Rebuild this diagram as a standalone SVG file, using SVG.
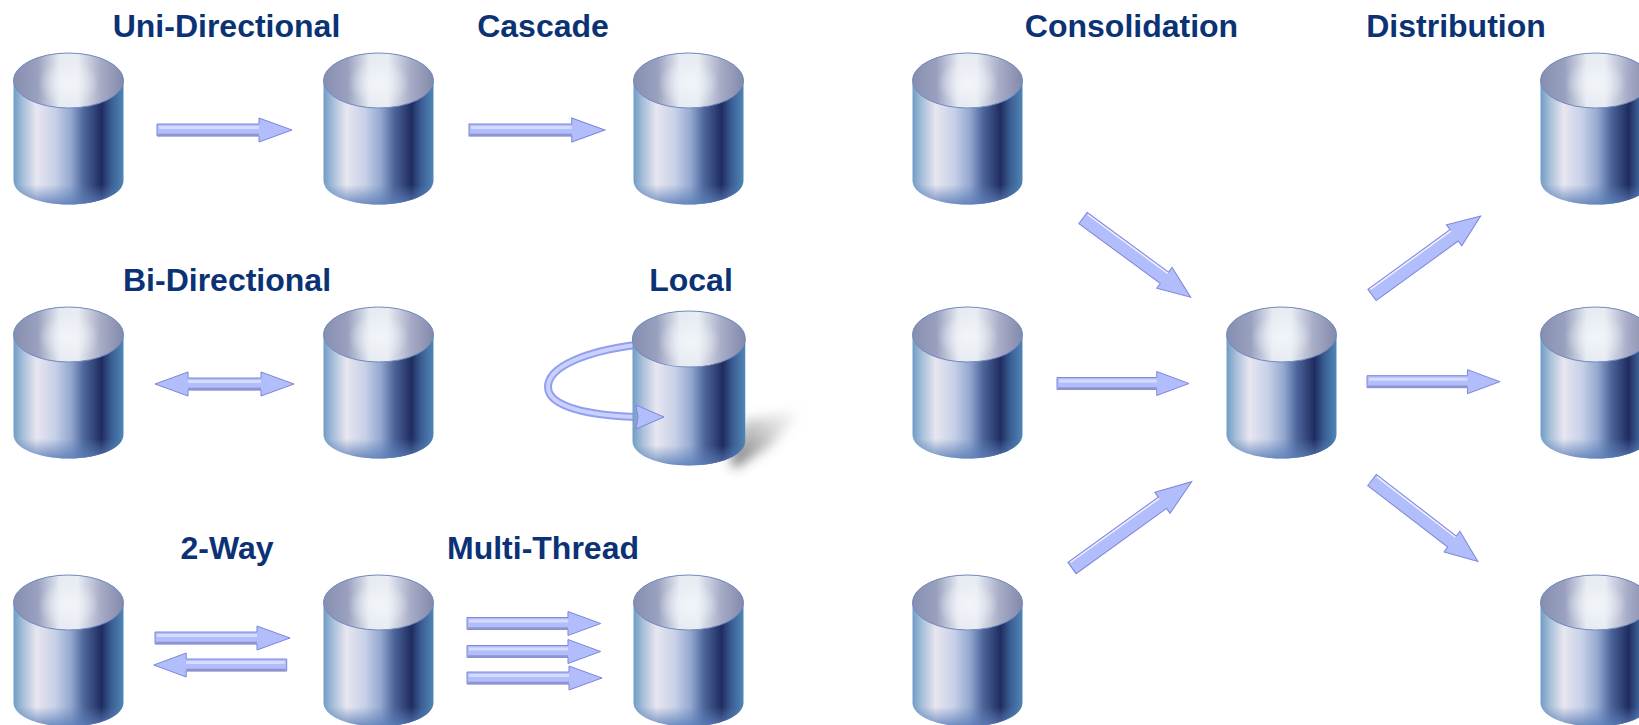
<svg xmlns="http://www.w3.org/2000/svg" width="1639" height="725" viewBox="0 0 1639 725">
<style>
.t{font-family:"Liberation Sans",Arial,sans-serif;font-weight:700;font-size:32px;fill:#0a3275;text-anchor:middle}
.ah{fill:#b2bdfb;stroke:#7d86d8;stroke-width:1}
.hi{stroke:#d5dcff;stroke-width:3;fill:none}
.lo{stroke:#8f94cf;stroke-width:2.500;fill:none}
.dh{stroke:#eef0ff;stroke-width:1.500;fill:none}
</style>
<defs>
<linearGradient id="body" x1="0" x2="1" y1="0" y2="0">
<stop offset="0" stop-color="#6f9cc6"/><stop offset=".09" stop-color="#a9c0da"/><stop offset=".21" stop-color="#e8e6f0"/><stop offset=".38" stop-color="#c6d0e7"/><stop offset=".52" stop-color="#94a8d0"/><stop offset=".64" stop-color="#4d669b"/><stop offset=".8" stop-color="#1f2c60"/><stop offset=".89" stop-color="#3a5e94"/><stop offset="1" stop-color="#5086b6"/>
</linearGradient>
<linearGradient id="inner" x1="0" x2="1" y1="0" y2="0">
<stop offset="0" stop-color="#868eb0"/><stop offset=".22" stop-color="#9aa1bf"/><stop offset=".42" stop-color="#e6eaf2"/><stop offset=".58" stop-color="#e9edf3"/><stop offset=".8" stop-color="#a5aac5"/><stop offset="1" stop-color="#8389aa"/>
</linearGradient>
<radialGradient id="glow" cx=".5" cy=".55" r=".45">
<stop offset="0" stop-color="#f2f5f9" stop-opacity=".9"/><stop offset="1" stop-color="#f2f5f9" stop-opacity="0"/>
</radialGradient>
<linearGradient id="base" x1="0" x2="0" y1="0" y2="1">
<stop offset=".84" stop-color="#5c7fb8" stop-opacity="0"/><stop offset="1" stop-color="#5c7fb8" stop-opacity=".85"/>
</linearGradient>
<linearGradient id="shade" x1="0" y1="1" x2="1" y2="0">
<stop offset="0" stop-color="#333" stop-opacity=".75"/><stop offset=".55" stop-color="#777" stop-opacity=".35"/><stop offset="1" stop-color="#aaa" stop-opacity="0"/>
</linearGradient>
<filter id="blur" x="-40%" y="-40%" width="180%" height="180%"><feGaussianBlur stdDeviation="6"/></filter>
<g id="cyl">
<path d="M0,28V128C0,142 25,152 55,152C85,152 110,142 110,128V28Z" fill="url(#body)"/>
<path d="M0,28V128C0,142 25,152 55,152C85,152 110,142 110,128V28Z" fill="url(#base)"/>
<ellipse cx="55" cy="28" rx="55" ry="27.500" fill="url(#inner)" stroke="#7189bd" stroke-width="1"/>
<ellipse cx="55" cy="28" rx="34" ry="26" fill="url(#glow)"/>
</g>
<g id="arrow">
<polygon class="ah" points="0,-6 102,-6 102,-12 135,0 102,12 102,6 0,6"/>
<path class="hi" d="M2,-2.500H102"/>
<path class="lo" d="M1,5H102"/>
</g>
<g id="arrowd">
<polygon class="ah" points="0,-7 102,-7 102,-13 135,0 102,13 102,7 0,7"/>
<path class="dh" d="M2,-5.500H102"/>
</g>
<g id="arrow2">
<polygon class="ah" points="0,0 33,-12 33,-6 106,-6 106,-12 139,0 106,12 106,6 33,6 33,12"/>
<path class="hi" d="M33,-2.500H106"/>
<path class="lo" d="M33,5H106"/>
</g>
</defs>
<rect width="1639" height="725" fill="#fff"/>
<g id="labels">
<text class="t" x="226.500" y="37">Uni-Directional</text>
<text class="t" x="543" y="37">Cascade</text>
<text class="t" x="1131.500" y="37">Consolidation</text>
<text class="t" x="1456" y="37">Distribution</text>
<text class="t" x="227" y="291">Bi-Directional</text>
<text class="t" x="691" y="291">Local</text>
<text class="t" x="227" y="559">2-Way</text>
<text class="t" x="543" y="559">Multi-Thread</text>
</g>
<g id="n1"><use href="#cyl" x="13.500" y="52.500"/></g>
<g id="n2"><use href="#cyl" x="323.500" y="52.500"/></g>
<g id="n3"><use href="#cyl" x="633.500" y="52.500"/></g>
<g id="n4"><use href="#cyl" x="13.500" y="306.500"/></g>
<g id="n5"><use href="#cyl" x="323.500" y="306.500"/></g>
<g id="n6"><use href="#cyl" x="13.500" y="574.500"/></g>
<g id="n7"><use href="#cyl" x="323.500" y="574.500"/></g>
<g id="n8"><use href="#cyl" x="633.500" y="574.500"/></g>
<g id="n9"><use href="#cyl" x="912.500" y="52.500"/></g>
<g id="n10"><use href="#cyl" x="912.500" y="306.500"/></g>
<g id="n11"><use href="#cyl" x="912.500" y="574.500"/></g>
<g id="n12"><use href="#cyl" x="1226.500" y="306.500"/></g>
<g id="n13"><use href="#cyl" x="1540.500" y="52.500"/></g>
<g id="n14"><use href="#cyl" x="1540.500" y="306.500"/></g>
<g id="n15"><use href="#cyl" x="1540.500" y="574.500"/></g>
<g id="local">
<path d="M730,462L745,420L805,408L770,446L735,468Z" fill="url(#shade)" filter="url(#blur)"/>
<path d="M636,345C588,351 548,366 548,387C548,407 590,416 640,417" fill="none" stroke="#939fee" stroke-width="8"/>
<path d="M636,345C588,351 548,366 548,387C548,407 590,416 640,417" fill="none" stroke="#c9d1ff" stroke-width="4"/>
<use href="#cyl" transform="translate(632.500,310.500) scale(1.025,1.02)"/>
<path d="M636,405L664,417L636,429L638,417Z" fill="#b2bdfb" stroke="#7d86d8"/>
</g>
<g id="connectors">
<use href="#arrow" transform="translate(157,130)"/>
<use href="#arrow" transform="translate(469,130) scale(1.007,1)"/>
<use href="#arrow2" transform="translate(155,384)"/>
<use href="#arrow" transform="translate(155,638)"/>
<use href="#arrow" transform="translate(286.700,665) scale(-.985,1)"/>
<use href="#arrow" transform="translate(467,623.500) scale(.99,1)"/>
<use href="#arrow" transform="translate(467,651.500) scale(.99,1)"/>
<use href="#arrow" transform="translate(467,678) scale(1,1)"/>
<use href="#arrowd" transform="translate(1083,218) rotate(36.300) scale(.99,1)"/>
<use href="#arrow" transform="translate(1057,383.500) scale(.978,1)"/>
<use href="#arrowd" transform="translate(1072,568) rotate(-35.800) scale(1.093,1)"/>
<use href="#arrowd" transform="translate(1372,295) rotate(-36) scale(.995,1)"/>
<use href="#arrow" transform="translate(1367,381.700) scale(.985,1)"/>
<use href="#arrowd" transform="translate(1372,480) rotate(37.600) scale(.99,1)"/>
</g>
</svg>
